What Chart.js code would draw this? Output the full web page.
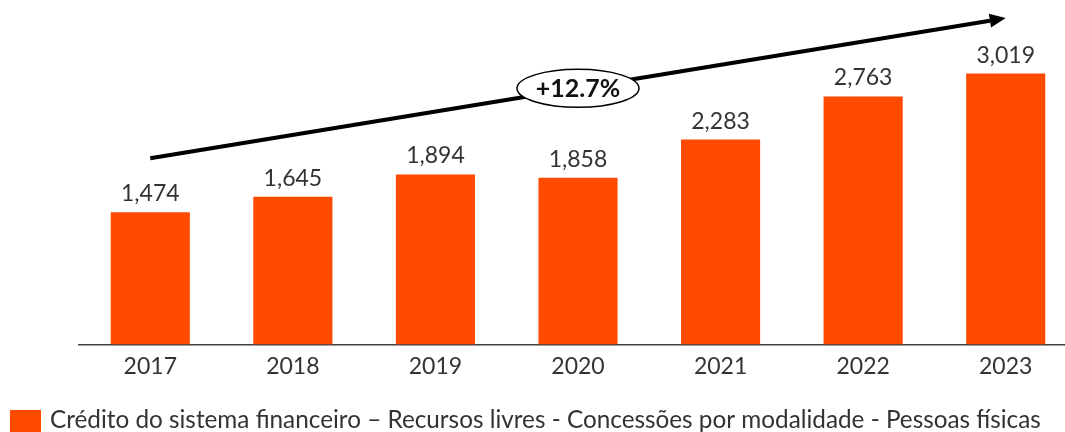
<!DOCTYPE html>
<html lang="pt">
<head>
    <meta charset="UTF-8">
    <title>Concessões - Pessoas físicas</title>
    <script src="https://cdn.jsdelivr.net/npm/chart.js"></script>
    <style>
        html, body { margin: 0; padding: 0; background: #fff; overflow: hidden; }
        .wrap { width: 1080px; height: 432px; position: relative; }
    </style>
</head>
<body>
    <div class="wrap">
        <canvas id="creditChart"></canvas>
    </div>

    <script>
        // chart data
        const years = ['2017', '2018', '2019', '2020', '2021', '2022', '2023'];
        const values = [1474, 1645, 1894, 1858, 2283, 2763, 3019];
        const seriesLabel = 'Crédito do sistema financeiro – Recursos livres - Concessões por modalidade - Pessoas físicas';
        const growthLabel = '+12.7%';
        // arrow start/end in value units, ellipse position
        const arrowFrom = ['2017', 2076];
        const arrowTo = ['2023', 3638];
        const badgeAt = ['2020', 2855];

        const orange = '#FF4B00';
        const textColor = '#333333';
        const fontFamily = 'Lato, "DejaVu Sans", sans-serif';

        // value labels above bars
        const valueLabels = {
            id: 'valueLabels',
            afterDatasetsDraw(chart) {
                const ctx = chart.ctx;
                const meta = chart.getDatasetMeta(0);
                ctx.save();
                ctx.font = '23px ' + fontFamily;
                ctx.fillStyle = textColor;
                ctx.textAlign = 'center';
                ctx.textBaseline = 'bottom';
                meta.data.forEach((bar, i) => {
                    ctx.fillText(values[i].toLocaleString('en-US'), bar.x, bar.y - 7);
                });
                ctx.restore();
            }
        };

        // growth arrow + ellipse badge
        const growthArrow = {
            id: 'growthArrow',
            afterDatasetsDraw(chart) {
                const ctx = chart.ctx;
                const xs = chart.scales.x, ys = chart.scales.y;
                const x1 = xs.getPixelForValue(years.indexOf(arrowFrom[0]));
                const y1 = ys.getPixelForValue(arrowFrom[1]);
                const x2 = xs.getPixelForValue(years.indexOf(arrowTo[0]));
                const y2 = ys.getPixelForValue(arrowTo[1]);
                const ang = Math.atan2(y2 - y1, x2 - x1);
                const headLen = 16, headW = 7;

                ctx.save();
                ctx.strokeStyle = '#000';
                ctx.fillStyle = '#000';
                ctx.lineWidth = 4;
                ctx.beginPath();
                ctx.moveTo(x1, y1);
                ctx.lineTo(x2 - headLen * Math.cos(ang), y2 - headLen * Math.sin(ang));
                ctx.stroke();

                ctx.beginPath();
                ctx.moveTo(x2, y2);
                ctx.lineTo(x2 - headLen * Math.cos(ang) + headW * Math.sin(ang),
                           y2 - headLen * Math.sin(ang) - headW * Math.cos(ang));
                ctx.lineTo(x2 - headLen * Math.cos(ang) - headW * Math.sin(ang),
                           y2 - headLen * Math.sin(ang) + headW * Math.cos(ang));
                ctx.closePath();
                ctx.fill();

                // badge
                const bx = xs.getPixelForValue(years.indexOf(badgeAt[0]));
                const by = ys.getPixelForValue(badgeAt[1]);
                ctx.beginPath();
                ctx.ellipse(bx, by, 61, 19, 0, 0, Math.PI * 2);
                ctx.fillStyle = '#fff';
                ctx.fill();
                ctx.lineWidth = 1.5;
                ctx.strokeStyle = '#000';
                ctx.stroke();

                ctx.fillStyle = '#111';
                ctx.font = 'bold 25px ' + fontFamily;
                ctx.textAlign = 'center';
                ctx.textBaseline = 'middle';
                ctx.fillText(growthLabel, bx, by + 1);
                ctx.restore();
            }
        };

        // legend at the bottom-left corner of the canvas
        const bottomLegend = {
            id: 'bottomLegend',
            afterDraw(chart) {
                const ctx = chart.ctx;
                const ds = chart.data.datasets[0];
                const y = chart.height - 22;
                ctx.save();
                ctx.fillStyle = ds.backgroundColor;
                ctx.fillRect(10, y, 31, 22);
                ctx.fillStyle = textColor;
                ctx.font = '24.3px ' + fontFamily;
                ctx.textAlign = 'left';
                ctx.textBaseline = 'alphabetic';
                ctx.fillText(ds.label, 50, chart.height - 4);
                ctx.restore();
            }
        };

        const ctx = document.getElementById('creditChart').getContext('2d');
        new Chart(ctx, {
            type: 'bar',
            data: {
                labels: years,
                datasets: [{
                    label: seriesLabel,
                    data: values,
                    backgroundColor: orange,
                    borderWidth: 0,
                    categoryPercentage: 1,
                    barPercentage: 0.555
                }]
            },
            options: {
                responsive: true,
                maintainAspectRatio: false,
                animation: false,
                layout: {
                    padding: { left: 79, right: 3, top: 10, bottom: 44 }
                },
                scales: {
                    x: {
                        grid: { display: false, drawTicks: false },
                        border: { display: true, color: '#404040', width: 1.5 },
                        ticks: {
                            color: textColor,
                            font: { family: fontFamily, size: 23 },
                            padding: 8
                        }
                    },
                    y: {
                        display: false,
                        min: 0,
                        max: 3728
                    }
                },
                plugins: {
                    legend: { display: false },
                    tooltip: { enabled: false }
                }
            },
            plugins: [valueLabels, growthArrow, bottomLegend]
        });
    </script>
</body>
</html>
